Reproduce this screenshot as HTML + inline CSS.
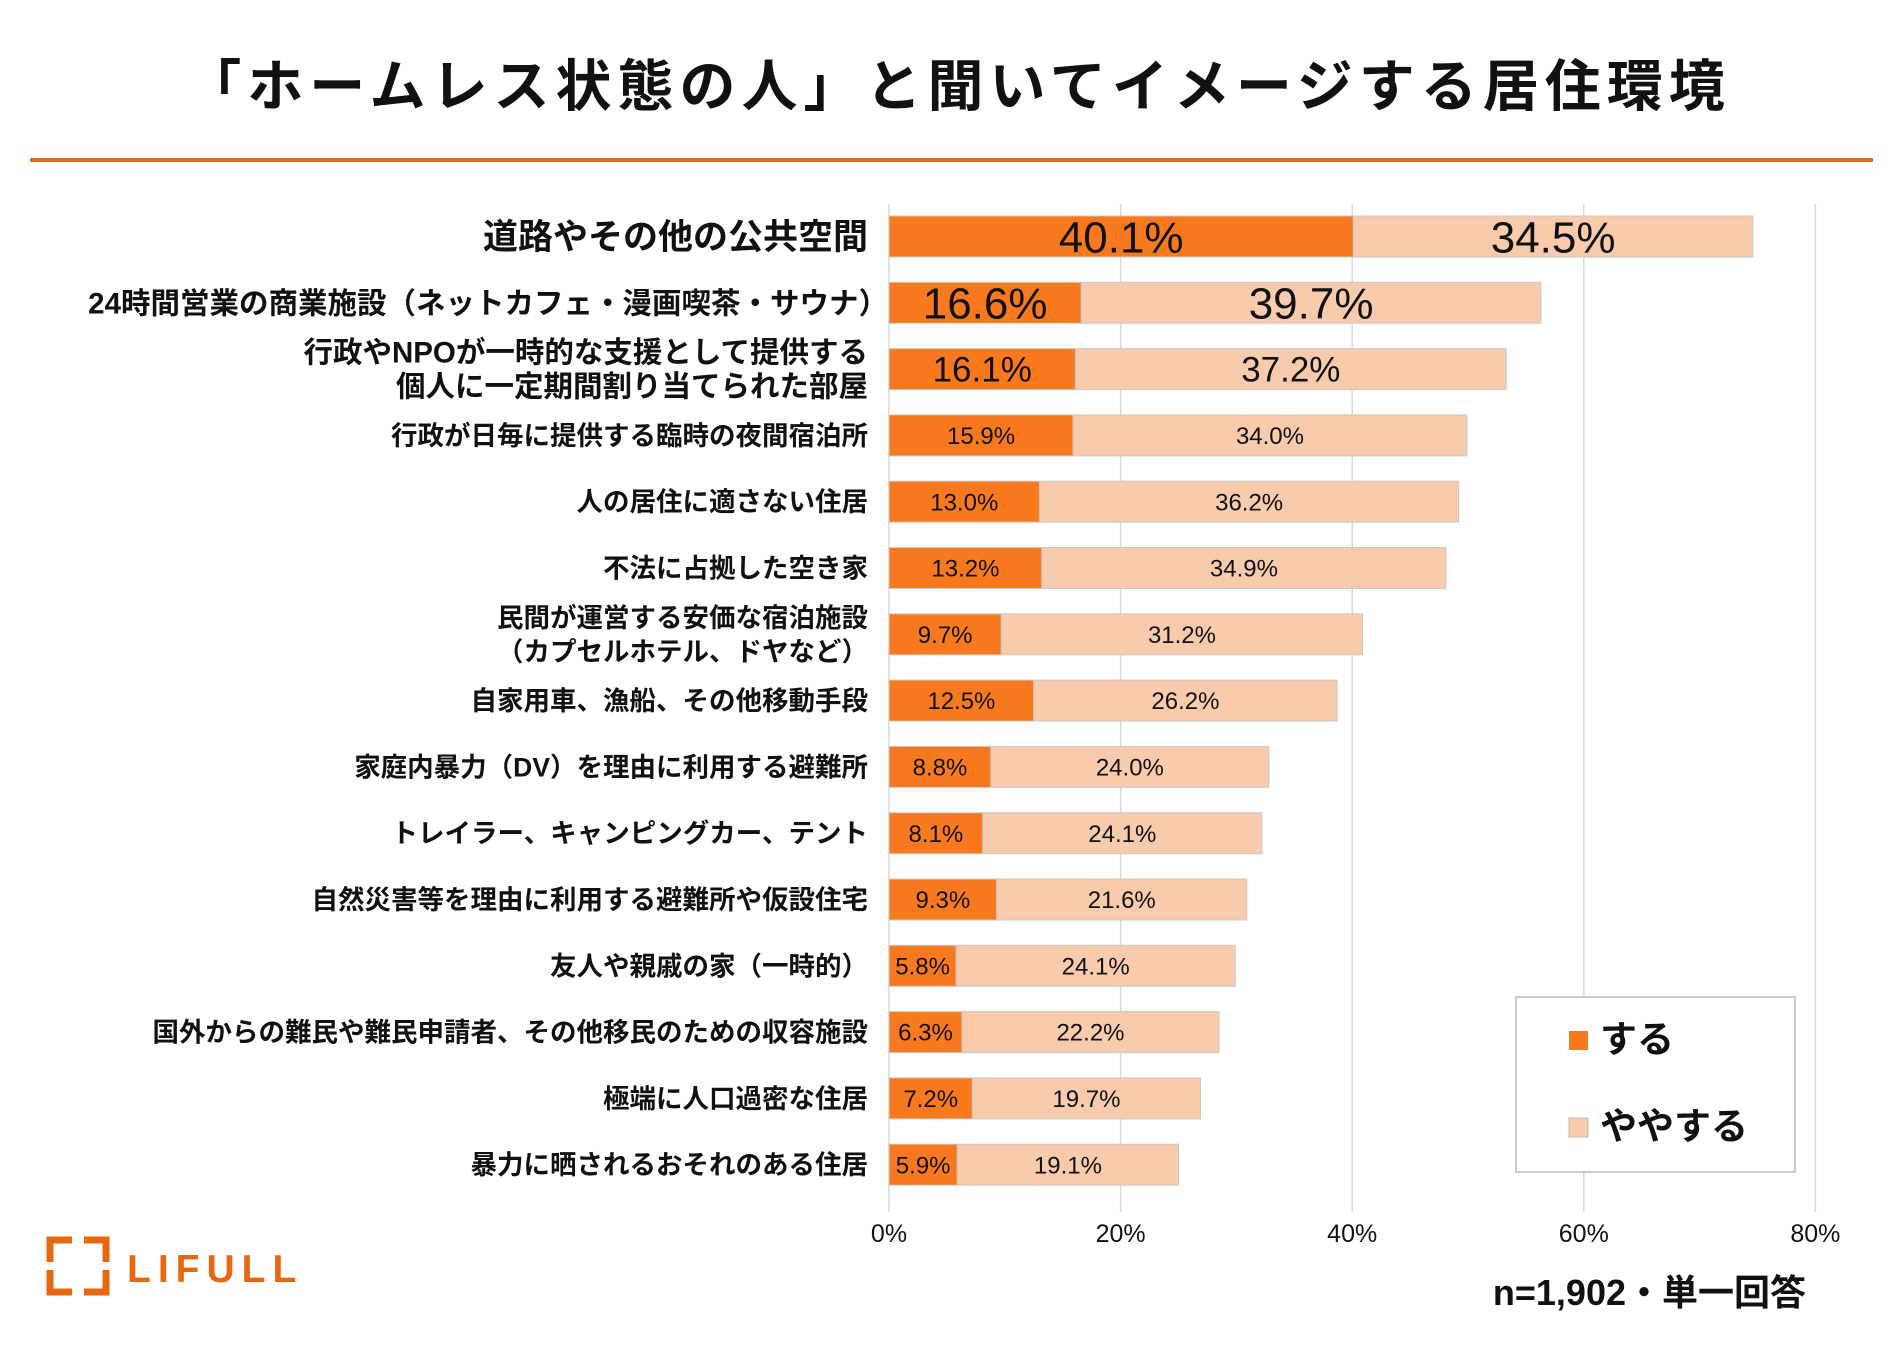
<!DOCTYPE html>
<html><head><meta charset="utf-8">
<style>
body{margin:0;background:#fff;}
svg{display:block;font-family:"Liberation Sans","Noto Sans CJK JP",sans-serif;}
</style></head>
<body>
<svg id="c" width="1891" height="1350" viewBox="0 0 1891 1350">
<text x="958" y="106" text-anchor="middle" font-size="56" font-weight="bold" letter-spacing="6" fill="#111">「ホームレス状態の人」と聞いてイメージする居住環境</text>
<rect x="30" y="158" width="1843" height="4" fill="#E36C1A"/>
<g id="grid"></g>
<g id="bars"></g>
<g id="labels"></g>
<g id="ticks"></g>
<g>
<rect x="1516" y="997" width="279" height="175" fill="#fff" stroke="#bbb" stroke-width="1.5"/>
<rect x="1569" y="1031" width="19" height="19" fill="#F97A1E"/>
<text x="1600" y="1052" font-size="37" font-weight="bold" fill="#111">する</text>
<rect x="1569" y="1118" width="19" height="19" fill="#F8CBAD" stroke="#bbb"/>
<text x="1600" y="1139" font-size="37" font-weight="bold" fill="#111">ややする</text>
</g>
<text x="1806" y="1305" text-anchor="end" font-size="36" font-weight="bold" fill="#111">n=1,902・単一回答</text>
<g fill="none" stroke="#E8670F" stroke-width="7">
<path d="M50 1262 V1240 H72"/><path d="M84 1240 H106 V1262"/><path d="M50 1270 V1292 H72"/><path d="M84 1292 H106 V1270"/>
</g>
<text x="127" y="1282" font-size="39" font-weight="bold" fill="#E8670F" letter-spacing="7">LIFULL</text>
</svg>
<script>
const categories=[["道路やその他の公共空間"],["24時間営業の商業施設（ネットカフェ・漫画喫茶・サウナ）"],["行政やNPOが一時的な支援として提供する","個人に一定期間割り当てられた部屋"],["行政が日毎に提供する臨時の夜間宿泊所"],["人の居住に適さない住居"],["不法に占拠した空き家"],["民間が運営する安価な宿泊施設","（カプセルホテル、ドヤなど）"],["自家用車、漁船、その他移動手段"],["家庭内暴力（DV）を理由に利用する避難所"],["トレイラー、キャンピングカー、テント"],["自然災害等を理由に利用する避難所や仮設住宅"],["友人や親戚の家（一時的）"],["国外からの難民や難民申請者、その他移民のための収容施設"],["極端に人口過密な住居"],["暴力に晒されるおそれのある住居"]];
const suru=[40.1,16.6,16.1,15.9,13.0,13.2,9.7,12.5,8.8,8.1,9.3,5.8,6.3,7.2,5.9];
const yayasuru=[34.5,39.7,37.2,34.0,36.2,34.9,31.2,26.2,24.0,24.1,21.6,24.1,22.2,19.7,19.1];
const tickValues=[0,20,40,60,80];
const tickLabels=["0%","20%","40%","60%","80%"];
const NS="http://www.w3.org/2000/svg";
const x0=889,pxPer=11.58,rowTop=216,rowStep=66.3,barH=41;
const xs=v=>x0+v*pxPer;
const yr=i=>rowTop+i*rowStep;
function mk(tag,attrs,parent,txt){const e=document.createElementNS(NS,tag);for(const k in attrs)e.setAttribute(k,attrs[k]);if(txt!==undefined)e.textContent=txt;parent.appendChild(e);return e;}
const grid=document.getElementById('grid'),bars=document.getElementById('bars'),labels=document.getElementById('labels'),ticks=document.getElementById('ticks');
tickValues.forEach((t,i)=>{
 const l=mk('line',{x1:xs(t),x2:xs(t),y1:204,y2:1212,stroke:'#d9d9d9','stroke-width':1.5},grid);
 
 
 const tx=mk('text',{x:xs(t),y:1242,'text-anchor':'middle','font-size':25,fill:'#111'},ticks,tickLabels[i]);
 
 
});
const lblSize=i=>i===0?35:(i<3?29.5:26.5);
const valSize=i=>i<2?44:(i===2?35:24);
categories.forEach((c,i)=>{
 const y=yr(i),cy=y+barH/2;
 const a=mk('rect',{x:xs(0),y:y,width:suru[i]*pxPer,height:barH,fill:'#F97A1E',stroke:'#c9c9c9','stroke-width':1},bars);
 
 
 const b=mk('rect',{x:xs(suru[i]),y:y,width:yayasuru[i]*pxPer,height:barH,fill:'#F8CBAD',stroke:'#c9c9c9','stroke-width':1},bars);
 
 
 const fs=valSize(i);
 const ta=mk('text',{x:xs(suru[i]/2),y:cy+fs*0.36,'text-anchor':'middle','font-size':fs,fill:'#111'},bars,suru[i].toFixed(1)+'%');
 
 
 const tb=mk('text',{x:xs(suru[i]+yayasuru[i]/2),y:cy+fs*0.36,'text-anchor':'middle','font-size':fs,fill:'#111'},bars,yayasuru[i].toFixed(1)+'%');
 
 
 const ls=lblSize(i);
 const rx=i===1?888:868;
 c.forEach((line,j)=>{
  const off=c.length===1?0:(j===0?-17:17);
  const lt=mk('text',{x:rx,y:cy+off+ls*0.36,'text-anchor':'end','font-size':ls,'font-weight':'bold',fill:'#111'},labels,line);
  
  
 });
});
</script>
</body></html>
